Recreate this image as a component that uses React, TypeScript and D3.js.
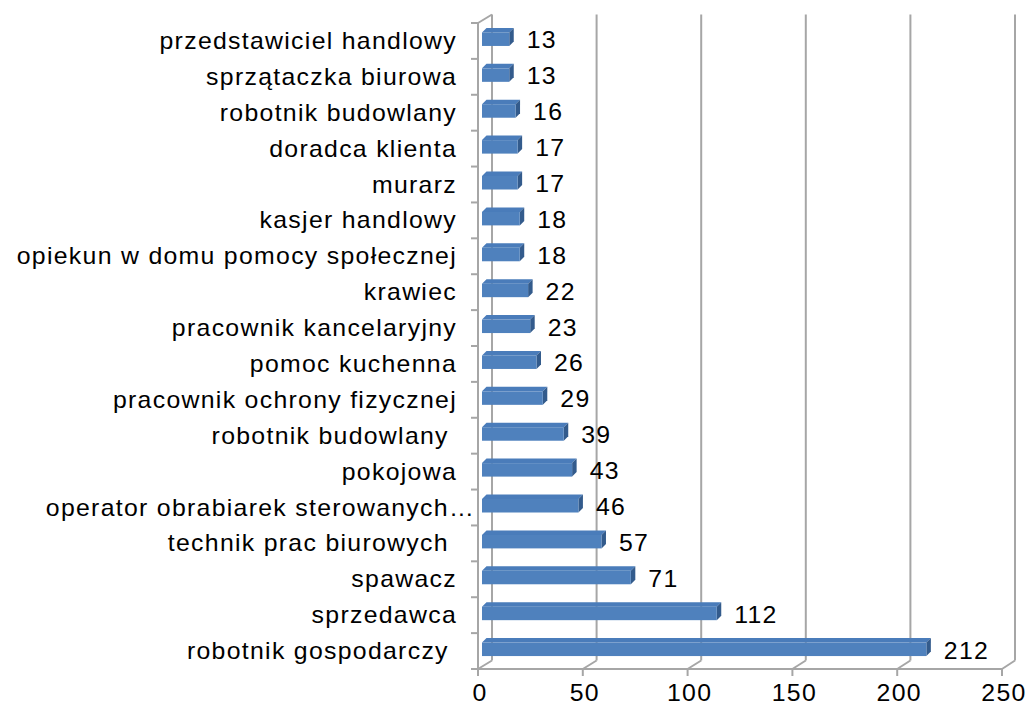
import React from 'react';
import * as d3 from 'd3';

// occupations, top to bottom as drawn
const categories = [
  'przedstawiciel handlowy',
  'sprzątaczka biurowa',
  'robotnik budowlany',
  'doradca klienta',
  'murarz',
  'kasjer handlowy',
  'opiekun w domu pomocy społecznej',
  'krawiec',
  'pracownik kancelaryjny',
  'pomoc kuchenna',
  'pracownik ochrony fizycznej',
  'robotnik budowlany ',
  'pokojowa',
  'operator obrabiarek sterowanych…',
  'technik prac biurowych ',
  'spawacz',
  'sprzedawca',
  'robotnik gospodarczy ',
];
const values = [13, 13, 16, 17, 17, 18, 18, 22, 23, 26, 29, 39, 43, 46, 57, 71, 112, 212];
const xTicks = [0, 50, 100, 150, 200, 250];

const W = 1029;
const H = 709;
const FONT = '"Liberation Sans", Arial, sans-serif';
const GRID = '#a6a6a6';
const SX = 1.08; // text is a bit wider than plain Arial

// text drawn with a slight horizontal stretch
const Label = ({ x, y, anchor, children }: { x: number; y: number; anchor: string; children: any }) => (
  <text transform={`translate(${x},${y}) scale(${SX},1)`} textAnchor={anchor} fontFamily={FONT}
    fontSize={23} letterSpacing={1.2} fill="#000" style={{ whiteSpace: 'pre' }}>{children}</text>
);

const App: React.FC = () => {
  // front plane and back wall of the pseudo-3D plot
  const xFront = d3.scaleLinear().domain([0, 250]).range([478, 1002]);
  const xBack = d3.scaleLinear().domain([0, 250]).range([492, 1015]);
  const xBar = d3.scaleLinear().domain([0, 250]).range([482, 1006]);
  const y = d3.scaleBand<string>().domain(categories).range([23, 669]).padding(0);

  const top = 23;
  const floor = 669;
  const dy = -8.5;
  const bd = 4.5; // bar depth
  const barH = 13.5;

  const bounds = categories.map(c => y(c) as number).concat([floor]);

  return (
    <svg width={W} height={H} style={{ position: 'absolute', left: 0, top: 0, background: '#fff' }}>
      {/* back wall gridlines */}
      {xTicks.slice(1).map(t => (
        <line key={'g' + t} x1={xBack(t)} x2={xBack(t)} y1={top + dy} y2={floor + dy}
          stroke={GRID} strokeWidth={2} />
      ))}
      {/* floor diagonals and ticks */}
      {xTicks.map(t => (
        <g key={'f' + t}>
          <line x1={xFront(t)} y1={floor} x2={xBack(t)} y2={floor + dy} stroke={GRID} strokeWidth={2} />
          <line x1={xFront(t)} y1={floor} x2={xFront(t)} y2={floor + 7} stroke={GRID} strokeWidth={2} />
          <Label x={xFront(t) + 2} y={701} anchor="middle">{t}</Label>
        </g>
      ))}
      {/* floor front edge */}
      <line x1={xFront(0)} x2={xFront(250)} y1={floor} y2={floor} stroke={GRID} strokeWidth={2} />
      {/* left wall */}
      <line x1={xFront(0)} x2={xFront(0)} y1={top} y2={floor} stroke={GRID} strokeWidth={2} />
      <line x1={xBack(0)} x2={xBack(0)} y1={top + dy} y2={floor + dy} stroke={GRID} strokeWidth={2} />
      <line x1={xFront(0)} y1={top} x2={xBack(0)} y2={top + dy} stroke={GRID} strokeWidth={2} />
      {bounds.map((b, i) => (
        <line key={'t' + i} x1={xFront(0) - 7} x2={xFront(0)} y1={b} y2={b} stroke={GRID} strokeWidth={2} />
      ))}
      {/* bars */}
      {categories.map((c, i) => {
        const cy = (y(c) as number) + y.bandwidth() / 2;
        const y0 = cy - 8.5;
        const x0 = xBar(0);
        const x1 = xBar(values[i]);
        const lx = c.endsWith('…') ? 475 : 457;
        return (
          <g key={'b' + i}>
            <polygon points={`${x0},${y0} ${x0 + bd},${y0 - bd} ${x1 + bd},${y0 - bd} ${x1},${y0}`}
              fill="#4a7cba" />
            <polygon points={`${x1},${y0} ${x1 + bd},${y0 - bd} ${x1 + bd},${y0 + barH - bd} ${x1},${y0 + barH}`}
              fill="#335b8c" />
            <rect x={x0} y={y0} width={x1 - x0} height={barH} fill="#4f81bd" />
            <Label x={x1 + bd + 13} y={cy + 7.5} anchor="start">{values[i]}</Label>
            <Label x={lx} y={cy + 8} anchor="end">{c}</Label>
          </g>
        );
      })}
    </svg>
  );
};

export default App;
